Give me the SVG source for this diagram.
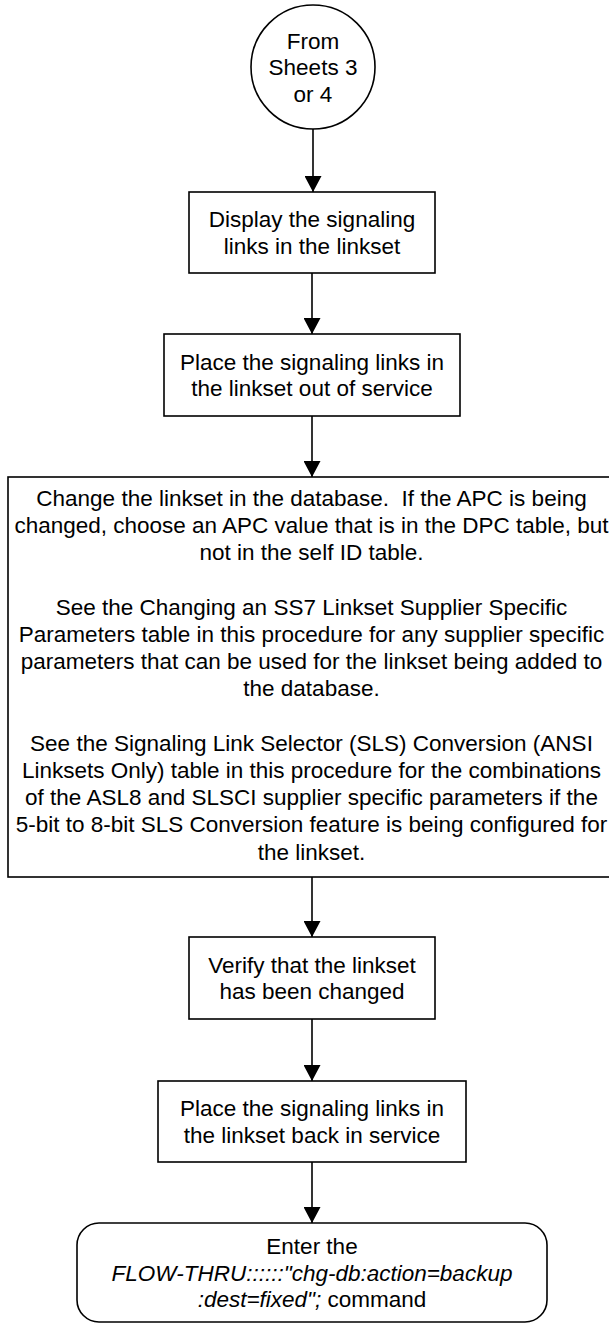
<svg xmlns="http://www.w3.org/2000/svg" width="609" height="1324" viewBox="0 0 609 1324">
<style>
  .shape { fill: #ffffff; stroke: #000000; stroke-width: 1.6; }
  .t { font-family: "Liberation Sans", Arial, sans-serif; font-size: 22.5px; fill: #000000; text-anchor: middle; }
  .i { font-style: italic; }
  .conn { stroke: #000000; stroke-width: 1.6; fill: none; marker-end: url(#arrow); }
</style>
<defs>
  <marker id="arrow" viewBox="0 0 16 17" refX="16" refY="8.5" markerWidth="16" markerHeight="17" markerUnits="userSpaceOnUse" orient="auto">
    <path d="M0,0 L16,8.5 L0,17 Z" fill="#000000"/>
  </marker>
</defs>
<rect width="609" height="1324" fill="#ffffff"/>
<g id="connectors">
  <line class="conn" x1="313" y1="129" x2="313" y2="192"/>
  <line class="conn" x1="312" y1="273" x2="312" y2="334"/>
  <line class="conn" x1="312" y1="416" x2="312" y2="477"/>
  <line class="conn" x1="312" y1="877" x2="312" y2="937"/>
  <line class="conn" x1="312" y1="1019" x2="312" y2="1081"/>
  <line class="conn" x1="312" y1="1162" x2="312" y2="1223"/>
</g>
<g id="start">
  <circle class="shape" cx="313" cy="67" r="62"/>
  <text class="t" x="313" y="48.5">From</text>
  <text class="t" x="313" y="75">Sheets 3</text>
  <text class="t" x="313" y="102">or 4</text>
</g>
<g id="display">
  <rect class="shape" x="189" y="192" width="246" height="81"/>
  <text class="t" x="312" y="227">Display the signaling</text>
  <text class="t" x="312" y="254">links in the linkset</text>
</g>
<g id="out-of-service">
  <rect class="shape" x="164" y="334" width="296" height="82"/>
  <text class="t" x="312" y="369.5">Place the signaling links in</text>
  <text class="t" x="312" y="396">the linkset out of service</text>
</g>
<g id="change">
  <rect class="shape" x="8" y="477" width="609" height="400"/>
  <text class="t" x="311.5" y="506">Change the linkset in the database.&#160; If the APC is being</text>
  <text class="t" x="311.5" y="533.2">changed, choose an APC value that is in the DPC table, but</text>
  <text class="t" x="311.5" y="560.4">not in the self ID table.</text>
  <text class="t" x="311.5" y="614.8">See the Changing an SS7 Linkset Supplier Specific</text>
  <text class="t" x="311.5" y="642">Parameters table in this procedure for any supplier specific</text>
  <text class="t" x="311.5" y="669.2">parameters that can be used for the linkset being added to</text>
  <text class="t" x="311.5" y="696.4">the database.</text>
  <text class="t" x="311.5" y="750.8">See the Signaling Link Selector (SLS) Conversion (ANSI</text>
  <text class="t" x="311.5" y="778">Linksets Only) table in this procedure for the combinations</text>
  <text class="t" x="311.5" y="805.2">of the ASL8 and SLSCI supplier specific parameters if the</text>
  <text class="t" x="311.5" y="832.4">5-bit to 8-bit SLS Conversion feature is being configured for</text>
  <text class="t" x="311.5" y="859.6">the linkset.</text>
</g>
<g id="verify">
  <rect class="shape" x="189" y="937" width="246" height="82"/>
  <text class="t" x="312" y="972.5">Verify that the linkset</text>
  <text class="t" x="312" y="999">has been changed</text>
</g>
<g id="back-in-service">
  <rect class="shape" x="158" y="1081" width="308" height="81"/>
  <text class="t" x="312" y="1116">Place the signaling links in</text>
  <text class="t" x="312" y="1143">the linkset back in service</text>
</g>
<g id="backup">
  <rect class="shape" x="77" y="1223" width="470" height="99" rx="22" ry="22"/>
  <text class="t" x="312" y="1254">Enter the</text>
  <text class="t i" x="312" y="1280.5">FLOW-THRU::::::"chg-db:action=backup</text>
  <text class="t" x="312" y="1307"><tspan class="i">:dest=fixed";</tspan> command</text>
</g>
</svg>
